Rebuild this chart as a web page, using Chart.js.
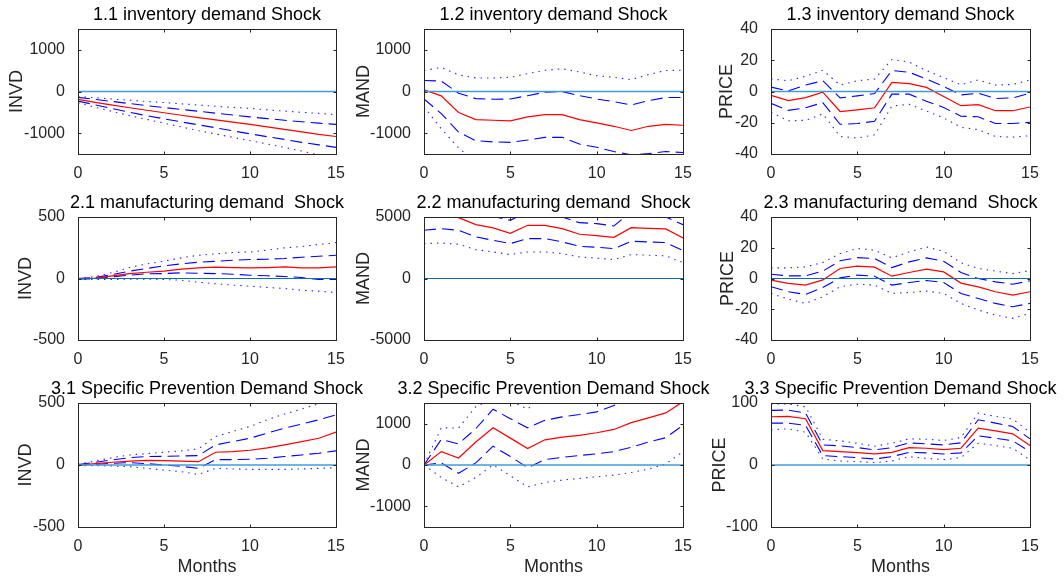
<!DOCTYPE html>
<html>
<head>
<meta charset="utf-8">
<script src="https://cdn.jsdelivr.net/npm/chart.js@4.4.0/dist/chart.umd.min.js"></script>
<style>
  html, body { margin: 0; padding: 0; background: #fff; }
  #wrap { position: relative; width: 1063px; height: 576px; overflow: hidden; }
  #wrap canvas { position: absolute; left: 0; top: 0; }
</style>
</head>
<body>
<div id="wrap"></div>
<script>
// horizon
const months = [0, 1, 2, 3, 4, 5, 6, 7, 8, 9, 10, 11, 12, 13, 14, 15];
const xTicks = [0, 5, 10, 15];

// 1.1 inventory demand shock -> INVD
const p11Mid    = [-190, -260, -325, -390, -450, -510, -570, -625, -680, -735, -790, -850, -910, -970, -1030, -1080];
const p11UpDash = [-140, -190, -240, -290, -340, -385, -430, -475, -520, -565, -610, -650, -690, -725, -760, -790];
const p11LoDash = [-230, -320, -410, -500, -580, -655, -730, -800, -870, -945, -1015, -1085, -1150, -1220, -1280, -1340];
const p11UpDot  = [-120, -150, -180, -210, -240, -265, -295, -325, -355, -380, -405, -440, -470, -500, -525, -555];
const p11LoDot  = [-270, -380, -480, -580, -670, -760, -850, -940, -1020, -1100, -1180, -1260, -1340, -1430, -1525, -1600];

// 1.2 inventory demand shock -> MAND
const p12Mid    = [40, -105, -505, -675, -690, -705, -610, -555, -555, -675, -755, -835, -935, -835, -790, -810];
const p12UpDash = [265, 250, -40, -170, -185, -180, -100, -15, 0, -100, -180, -245, -325, -220, -145, -145];
const p12LoDash = [-180, -530, -975, -1180, -1210, -1220, -1165, -1100, -1100, -1260, -1340, -1440, -1520, -1490, -1440, -1465];
const p12UpDot  = [505, 575, 400, 325, 325, 340, 430, 510, 545, 470, 380, 340, 285, 405, 505, 510];
const p12LoDot  = [-365, -895, -1350, -1700, -1750, -1750, -1700, -1650, -1650, -1800, -1900, -2000, -2100, -2050, -2000, -2000];

// 1.3 inventory demand shock -> PRICE
const p13Mid    = [-2.4, -5.8, -3.9, -0.4, -12.8, -11.7, -10.4, 5.8, 5.0, 2.6, -3.2, -9.1, -8.4, -12.3, -12.3, -9.9];
const p13UpDash = [2.8, 0.4, 4.1, 6.9, -4.1, -2.8, -1.3, 13.4, 12.3, 8.0, 3.2, -2.2, -1.1, -4.5, -4.1, -1.1];
const p13LoDash = [-7.6, -12.1, -10.4, -7.1, -21.0, -20.5, -19.0, -1.7, -1.7, -6.3, -10.2, -15.8, -16.2, -20.5, -20.5, -19.7];
const p13UpDot  = [8.0, 6.9, 9.7, 13.6, 4.1, 6.9, 8.0, 20.5, 18.8, 13.4, 8.9, 4.3, 7.4, 4.1, 4.5, 7.4];
const p13LoDot  = [-13.2, -18.8, -18.4, -14.3, -28.8, -29.8, -27.7, -9.3, -8.2, -12.5, -16.9, -22.9, -24.4, -28.8, -29.2, -28.3];

// 2.1 manufacturing demand shock -> INVD
const p21Mid    = [0, 3, 22, 40, 51, 60, 76, 86, 92, 89, 86, 89, 95, 86, 86, 95];
const p21UpDash = [0, 8, 32, 60, 81, 103, 119, 132, 140, 149, 154, 157, 162, 173, 181, 189];
const p21LoDash = [-3, -3, 14, 27, 38, 40, 46, 43, 40, 35, 27, 22, 16, 8, -8, -8];
const p21UpDot  = [0, 16, 49, 89, 119, 140, 168, 189, 200, 211, 216, 230, 249, 260, 276, 292];
const p21LoDot  = [-8, -8, -8, -5, -5, -8, -14, -30, -43, -54, -62, -73, -81, -95, -103, -114];

// 2.2 manufacturing demand shock -> MAND
const p22Mid    = [5600, 5400, 4950, 4380, 4110, 3680, 4325, 4325, 4055, 3595, 3490, 3350, 4135, 4080, 4030, 3300];
const p22UpDash = [7200, 6800, 6000, 5400, 5050, 4730, 5450, 5500, 5000, 4540, 4460, 4270, 5450, 5400, 5000, 4380];
const p22LoDash = [3920, 4055, 3920, 3380, 3110, 2840, 3245, 3245, 2975, 2620, 2540, 2430, 3030, 2975, 2920, 2270];
const p22UpDot  = [7800, 7600, 7100, 6400, 6000, 5500, 6400, 6400, 6000, 5400, 5300, 5200, 6300, 6200, 6200, 5300];
const p22LoDot  = [2840, 2890, 2780, 2350, 2160, 1945, 2160, 2160, 2030, 1755, 1650, 1540, 1945, 1890, 1840, 1300];

// 2.3 manufacturing demand shock -> PRICE
const p23Mid    = [-1.1, -3.2, -4.3, -0.9, 6.5, 8.0, 7.4, 1.5, 3.9, 6.1, 4.3, -3.0, -5.4, -8.6, -10.8, -8.6];
const p23UpDash = [2.8, 1.7, 1.7, 4.8, 11.5, 13.6, 13.0, 7.1, 10.8, 13.4, 11.2, 3.9, 0.0, -2.2, -3.7, -1.5];
const p23LoDash = [-5.4, -8.6, -10.4, -5.8, 0.4, 2.2, 1.5, -4.3, -2.6, -1.3, -2.6, -9.7, -13.0, -16.2, -18.4, -16.2];
const p23UpDot  = [6.9, 6.9, 7.6, 10.4, 16.2, 19.5, 18.4, 13.4, 17.3, 20.5, 17.7, 10.2, 6.5, 4.8, 3.2, 5.2];
const p23LoDot  = [-9.7, -13.4, -16.2, -11.9, -5.4, -3.7, -4.3, -9.7, -9.1, -8.2, -9.7, -16.2, -20.5, -23.8, -25.9, -22.7];

// 3.1 specific prevention demand shock -> INVD
const p31Mid    = [0, 11, 22, 32, 38, 35, 32, 27, 103, 108, 119, 138, 162, 189, 216, 265];
const p31UpDash = [3, 22, 41, 59, 68, 70, 73, 76, 162, 189, 216, 257, 297, 330, 365, 405];
const p31LoDash = [0, 5, 14, 19, 11, 0, -11, -27, 43, 43, 46, 54, 68, 81, 95, 114];
const p31UpDot  = [5, 32, 59, 81, 92, 103, 114, 130, 230, 270, 311, 365, 411, 451, 495, 540];
const p31LoDot  = [-5, -5, -8, -14, -27, -41, -54, -76, -27, -32, -35, -35, -35, -32, -27, -22];

// 3.2 specific prevention demand shock -> MAND
const p32Mid    = [0, 325, 170, 555, 900, 650, 400, 610, 675, 715, 780, 860, 1025, 1140, 1260, 1530];
const p32UpDash = [0, 620, 510, 880, 1350, 1120, 900, 1080, 1165, 1220, 1285, 1440, 1560, 1680, 1800, 2050];
const p32LoDash = [0, 50, -200, 50, 455, 205, -65, 130, 185, 230, 270, 325, 430, 555, 660, 960];
const p32UpDot  = [0, 900, 895, 1410, 1610, 1550, 1350, 1750, 1800, 1900, 1950, 2050, 2200, 2350, 2450, 2700];
const p32LoDot  = [0, -300, -530, -300, 0, -260, -530, -425, -365, -325, -285, -245, -180, -100, 25, 325];

// 3.3 specific prevention demand shock -> PRICE
const p33Mid    = [77.8, 78.4, 74.6, 23.2, 21.6, 20.0, 17.8, 20.5, 28.1, 27.0, 24.9, 27.0, 59.5, 55.1, 50.3, 31.4];
const p33UpDash = [88.1, 88.6, 83.8, 32.4, 30.8, 28.1, 24.3, 28.1, 35.7, 34.0, 32.4, 35.7, 73.0, 67.6, 62.2, 42.2];
const p33LoDash = [67.6, 67.6, 63.8, 15.1, 13.5, 11.9, 9.7, 13.5, 20.5, 19.5, 17.8, 19.5, 47.0, 43.2, 38.9, 21.6];
const p33UpDot  = [98.4, 98.4, 94.0, 41.6, 38.9, 35.1, 30.3, 35.1, 42.2, 41.6, 39.5, 44.3, 83.8, 78.4, 74.1, 53.0];
const p33LoDot  = [56.8, 58.4, 53.0, 9.7, 6.5, 5.4, 3.8, 6.5, 13.5, 10.8, 8.6, 11.9, 35.1, 31.4, 27.0, 8.1];

// labels and axis ranges
const titles = [
  "1.1 inventory demand Shock", "1.2 inventory demand Shock", "1.3 inventory demand Shock",
  "2.1 manufacturing demand  Shock", "2.2 manufacturing demand  Shock", "2.3 manufacturing demand  Shock",
  "3.1 Specific Prevention Demand Shock", "3.2 Specific Prevention Demand Shock", "3.3 Specific Prevention Demand Shock"
];
const yLabels = ["INVD", "MAND", "PRICE"];
const yTicks = [
  [-1000, 0, 1000], [-1000, 0, 1000], [-40, -20, 0, 20, 40],
  [-500, 0, 500], [-5000, 0, 5000], [-40, -20, 0, 20, 40],
  [-500, 0, 500], [-1000, 0, 1000], [-100, 0, 100]
];
const yRange = [
  [-1500, 1500], [-1500, 1500], [-40, 40],
  [-500, 500], [-5000, 5000], [-40, 40],
  [-500, 500], [-1500, 1500], [-100, 100]
];
const series = [
  [p11Mid, p11UpDash, p11LoDash, p11UpDot, p11LoDot],
  [p12Mid, p12UpDash, p12LoDash, p12UpDot, p12LoDot],
  [p13Mid, p13UpDash, p13LoDash, p13UpDot, p13LoDot],
  [p21Mid, p21UpDash, p21LoDash, p21UpDot, p21LoDot],
  [p22Mid, p22UpDash, p22LoDash, p22UpDot, p22LoDot],
  [p23Mid, p23UpDash, p23LoDash, p23UpDot, p23LoDot],
  [p31Mid, p31UpDash, p31LoDash, p31UpDot, p31LoDot],
  [p32Mid, p32UpDash, p32LoDash, p32UpDot, p32LoDot],
  [p33Mid, p33UpDash, p33LoDash, p33UpDot, p33LoDot]
];

// page layout (pixels)
const W = 1063, H = 576;
const colLeft = [78, 424, 771];
const colRight = [336, 683, 1030];
const rowTop = [29, 217, 403];
const rowBottom = [154, 340, 527];
const yLabelX = [[17, 364, 727], [26, 364, 728], [26, 364, 720]];
const FONT = '"Liberation Sans", Arial, Helvetica, sans-serif';
const AXIS = "#262626";
const YW = 60, XH = 30;

const toPoints = arr => arr.map((v, i) => ({ x: months[i], y: v }));

// frame, inward ticks, titles and axis labels
const framePlugin = {
  id: "frame",
  afterDraw(chart, args, opts) {
    const ctx = chart.ctx;
    const a = chart.chartArea;
    const xs = chart.scales.x, ys = chart.scales.y;
    const l = Math.round(a.left) + 0.5, r = Math.round(a.right) + 0.5;
    const t = Math.round(a.top) + 0.5, b = Math.round(a.bottom) + 0.5;
    ctx.save();
    ctx.strokeStyle = AXIS;
    ctx.lineWidth = 1;
    ctx.strokeRect(l, t, r - l, b - t);
    const tl = 3;
    ctx.beginPath();
    xTicks.forEach(v => {
      const px = Math.round(xs.getPixelForValue(v)) + 0.5;
      ctx.moveTo(px, b); ctx.lineTo(px, b - tl);
      ctx.moveTo(px, t); ctx.lineTo(px, t + tl);
    });
    opts.yTicks.forEach(v => {
      const py = Math.round(ys.getPixelForValue(v)) + 0.5;
      ctx.moveTo(l, py); ctx.lineTo(l + tl, py);
      ctx.moveTo(r, py); ctx.lineTo(r - tl, py);
    });
    ctx.stroke();

    ctx.fillStyle = "#000";
    ctx.font = "18px " + FONT;
    ctx.textAlign = "center";
    ctx.textBaseline = "middle";
    ctx.fillText(opts.title, (a.left + a.right) / 2, a.top - 14);

    ctx.fillStyle = AXIS;
    ctx.save();
    ctx.translate(opts.ylabX, (a.top + a.bottom) / 2);
    ctx.rotate(-Math.PI / 2);
    ctx.fillText(opts.ylabel, 0, 0);
    ctx.restore();

    if (opts.months) {
      ctx.fillText("Months", (a.left + a.right) / 2, 567);
    }
    ctx.restore();
  }
};

const wrap = document.getElementById("wrap");

for (let k = 0; k < 9; k++) {
  const row = Math.floor(k / 3), col = k % 3;
  const L = colLeft[col], R = colRight[col], T = rowTop[row], B = rowBottom[row];
  const cv = document.createElement("canvas");
  cv.width = W; cv.height = H;
  cv.style.width = W + "px"; cv.style.height = H + "px";
  wrap.appendChild(cv);

  const s = series[k];
  const zeroColor = row === 1 ? "#0b6fb6" : "#3f9cda";
  const zeroWidth = row === 1 ? 1.2 : 1.6;

  new Chart(cv, {
    type: "line",
    data: {
      datasets: [
        { data: [{ x: 0, y: 0 }, { x: 15, y: 0 }], borderColor: zeroColor, borderWidth: zeroWidth },
        { data: toPoints(s[0]), borderColor: "#ff0000", borderWidth: 1.2 },
        { data: toPoints(s[1]), borderColor: "#0000ff", borderWidth: 1.1, borderDash: [12, 6] },
        { data: toPoints(s[2]), borderColor: "#0000ff", borderWidth: 1.1, borderDash: [12, 6] },
        { data: toPoints(s[3]), borderColor: "#2a2aff", borderWidth: 1.1, borderDash: [1.5, 5] },
        { data: toPoints(s[4]), borderColor: "#2a2aff", borderWidth: 1.1, borderDash: [1.5, 5] }
      ]
    },
    options: {
      responsive: false,
      animation: false,
      devicePixelRatio: 1,
      layout: { padding: { left: L - YW, right: W - R, top: T, bottom: H - B - XH } },
      elements: { point: { radius: 0 }, line: { tension: 0, fill: false } },
      plugins: {
        legend: { display: false },
        tooltip: { enabled: false },
        frame: { title: titles[k], ylabel: yLabels[col], ylabX: yLabelX[row][col], yTicks: yTicks[k], months: row === 2 }
      },
      scales: {
        x: {
          type: "linear", min: 0, max: 15,
          grid: { display: false }, border: { display: false },
          afterFit: sc => { sc.height = XH; },
          afterBuildTicks: sc => { sc.ticks = xTicks.map(v => ({ value: v })); },
          ticks: { padding: 2, color: AXIS, font: { family: FONT, size: 16 }, maxRotation: 0, autoSkip: false, callback: v => String(v) }
        },
        y: {
          type: "linear", min: yRange[k][0], max: yRange[k][1],
          grid: { display: false }, border: { display: false },
          afterFit: sc => { sc.width = YW; },
          afterBuildTicks: sc => { sc.ticks = yTicks[k].map(v => ({ value: v })); },
          ticks: { padding: 5, color: AXIS, font: { family: FONT, size: 16 }, autoSkip: false, callback: v => String(v) }
        }
      }
    },
    plugins: [framePlugin]
  });
}
</script>
</body>
</html>
